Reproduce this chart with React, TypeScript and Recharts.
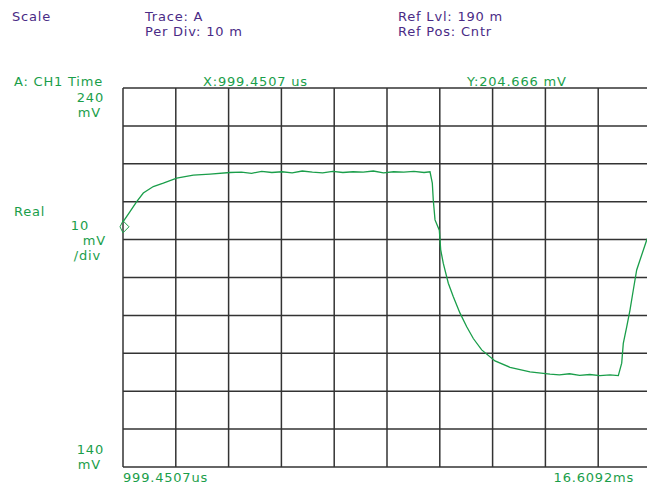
import React from "react"
import { LineChart, Line, XAxis, YAxis, CartesianGrid } from "recharts"

// trace A, time in ms, level in mV
const timeMs = [
  0.9995, 1.2064, 1.4045, 1.5996, 1.8952, 2.1909, 2.587, 3.0778, 3.5715, 4.1628,
  4.5, 4.8, 5.1, 5.4, 5.7, 6.0, 6.3, 6.6, 6.9, 7.2, 7.5, 7.8, 8.1, 8.4, 8.7, 9.0, 9.3, 9.6, 9.9,
  10.076, 10.144, 10.173, 10.224, 10.351, 10.392, 10.469, 10.617, 10.765, 10.963, 11.161,
  11.356, 11.604, 11.997, 12.441, 13.032, 13.623, 13.9, 14.2, 14.5, 14.8, 15.1, 15.4, 15.643,
  15.743, 15.79, 15.891, 15.988, 16.086, 16.186, 16.284, 16.482, 16.6092,
]
const traceMv = [
  204.7, 207.4, 210.0, 212.3, 214.0, 214.9, 216.2, 217.0, 217.3, 217.7,
  217.8, 217.5, 218.0, 217.7, 217.9, 217.6, 218.1, 217.8, 217.6, 218.0, 217.7, 217.9, 217.8, 218.1, 217.6, 217.9, 217.8, 218.0, 217.7,
  217.9, 214.9, 210.4, 205.2, 202.5, 197.3, 193.7, 188.5, 184.9, 180.6, 177.0,
  173.9, 170.9, 168.0, 166.3, 165.1, 164.5, 164.3, 164.6, 164.2, 164.4, 164.1, 164.3, 164.1,
  167.4, 172.6, 177.0, 181.4, 186.7, 192.0, 194.6, 199.9, 202.0,
]

const xStart = 0.9994507
const xEnd = 16.6092
const xTicks = [0, 1, 2, 3, 4, 5, 6, 7, 8, 9, 10].map((i) => xStart + ((xEnd - xStart) * i) / 10)
const yTicks = [140, 150, 160, 170, 180, 190, 200, 210, 220, 230, 240]

const data = timeMs.map((t, i) => ({ t, v: traceMv[i] }))

const purple = "#4a2b86"
const green = "#1a9e4a"
const font = "'DejaVu Sans', sans-serif"

const Txt = ({ x, y, c, right, children }: any) => (
  <div
    style={{
      position: "absolute",
      top: y,
      ...(right ? { right: 647 - x } : { left: x }),
      color: c,
      fontSize: 13,
      letterSpacing: 0.8,
      lineHeight: "15px",
      whiteSpace: "nowrap",
    }}
  >
    {children}
  </div>
)

const Marker = (props: any) => {
  const { cx, cy, index } = props
  if (index !== 0) return <g key={`d-${index}`} />
  return (
    <path
      key="marker"
      d={`M${cx} ${cy - 1} l6 6 l-6 6 l-3 -6 z`}
      fill="none"
      stroke={green}
      strokeWidth={1}
    />
  )
}

export default function App() {
  return (
    <div style={{ position: "fixed", left: 0, top: 0, width: 647, height: 487, overflow: "hidden", background: "#fff", fontFamily: font }}>
      <LineChart width={660} height={487} data={data} margin={{ top: 88, right: 9, left: 123, bottom: 20 }}>
        <CartesianGrid stroke="#333" strokeWidth={1.5} />
        <XAxis type="number" dataKey="t" domain={[xStart, xEnd]} ticks={xTicks} interval={0} hide />
        <YAxis type="number" domain={[140, 240]} ticks={yTicks} interval={0} hide />
        <Line
          type="linear"
          dataKey="v"
          stroke={green}
          strokeWidth={1.3}
          dot={<Marker />}
          isAnimationActive={false}
        />
      </LineChart>

      <Txt x={12} y={9} c={purple}>Scale</Txt>
      <Txt x={145} y={9} c={purple}>Trace: A</Txt>
      <Txt x={145} y={24} c={purple}>Per Div: 10 m</Txt>
      <Txt x={398} y={9} c={purple}>Ref Lvl: 190 m</Txt>
      <Txt x={398} y={24} c={purple}>Ref Pos: Cntr</Txt>

      <Txt x={14} y={74} c={green}>A: CH1 Time</Txt>
      <Txt x={203} y={74} c={green}>X:999.4507 us</Txt>
      <Txt x={467} y={74} c={green}>Y:204.666 mV</Txt>

      <Txt x={104} y={90} c={green} right>240</Txt>
      <Txt x={101} y={105} c={green} right>mV</Txt>
      <Txt x={14} y={204} c={green}>Real</Txt>
      <Txt x={89} y={218} c={green} right>10</Txt>
      <Txt x={106} y={233} c={green} right>mV</Txt>
      <Txt x={101} y={248} c={green} right>/div</Txt>
      <Txt x={104} y={442} c={green} right>140</Txt>
      <Txt x={101} y={457} c={green} right>mV</Txt>

      <Txt x={123} y={470} c={green}>999.4507us</Txt>
      <Txt x={634} y={470} c={green} right>16.6092ms</Txt>
    </div>
  )
}
